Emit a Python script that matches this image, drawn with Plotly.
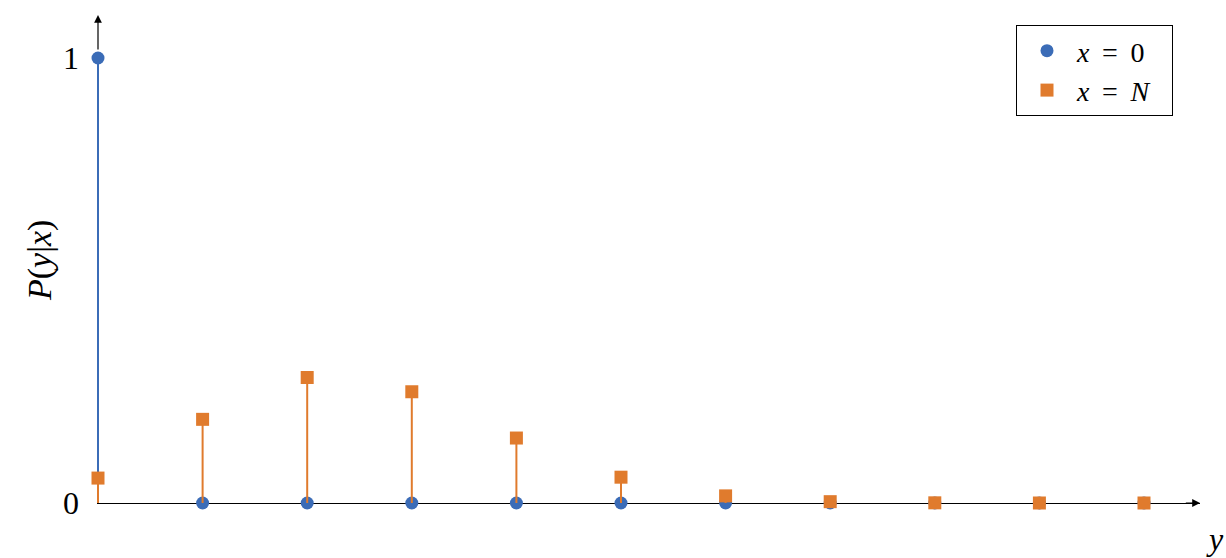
import plotly.graph_objects as go

# Data
y_values = [0, 1, 2, 3, 4, 5, 6, 7, 8, 9, 10]
p_x0 = [1.0, 0, 0, 0, 0, 0, 0, 0, 0, 0, 0]
p_xN = [0.056, 0.188, 0.282, 0.250, 0.146, 0.058, 0.016, 0.003, 0.0004, 0.0, 0.0]
series_names = ["<i>x</i>\u2009 = \u20090\u2009\u2009\u2009", "<i>x</i>\u2009 = \u2009<i>N</i>\u2009\u2009\u2009"]
y_tick_vals = [0, 1]
y_tick_text = ["0", "1"]

BLUE = "#3b6cb7"
ORANGE = "#e07b2d"
FONT = "Liberation Serif"

W, H = 1226, 558
L, R, T, B = 97, 26, 15, 55
plot_w = W - L - R
plot_h = H - T - B
px_per_x = 104.6
px_per_y = 445.0
x_min = -1.0 / px_per_x
x_max = x_min + plot_w / px_per_x
y_max = plot_h / px_per_y


def stems(xs, ys):
    sx, sy = [], []
    for a, b in zip(xs, ys):
        sx += [a, a, None]
        sy += [0, b, None]
    return sx, sy


fig = go.Figure()

for vals, color, name, symbol in [
    (p_x0, BLUE, series_names[0], "circle"),
    (p_xN, ORANGE, series_names[1], "square"),
]:
    sx, sy = stems(y_values, vals)
    fig.add_trace(go.Scatter(x=sx, y=sy, mode="lines", line=dict(color=color, width=2),
                             showlegend=False, hoverinfo="skip", cliponaxis=False))
    fig.add_trace(go.Scatter(x=y_values, y=vals, mode="markers", name=name,
                             marker=dict(color=color, size=13, symbol=symbol, line=dict(width=0)),
                             cliponaxis=False))

# axis arrows (x axis line drawn by axis; y axis above the top stem drawn here)
fig.add_annotation(x=x_max, y=0, ax=x_max - 0.15, ay=0, xref="x", yref="y", axref="x", ayref="y",
                   showarrow=True, arrowhead=2, arrowsize=1.3, arrowwidth=1.2, arrowcolor="black", text="")
fig.add_annotation(x=0, y=y_max, ax=0, ay=1.016, xref="x", yref="y", axref="x", ayref="y",
                   showarrow=True, arrowhead=2, arrowsize=1.3, arrowwidth=1.2, arrowcolor="black", text="")

# axis titles
fig.add_annotation(x=(1215 - L) / plot_w, y=-(519 - (H - B)) / plot_h, xref="paper", yref="paper",
                   text="<i>y</i>", showarrow=False, font=dict(family=FONT, size=32, color="black"),
                   xanchor="center", yanchor="top")
fig.add_annotation(x=(40 - L) / plot_w, y=(H - B - 260) / plot_h, xref="paper", yref="paper",
                   text="<i>P</i>(<i>y</i>|<i>x</i>)", textangle=-90, showarrow=False,
                   font=dict(family=FONT, size=34, color="black"),
                   xanchor="center", yanchor="middle")

fig.update_layout(
    width=W, height=H,
    margin=dict(l=L, r=R, t=T, b=B, autoexpand=False),
    plot_bgcolor="white", paper_bgcolor="white",
    font=dict(family=FONT, size=30, color="black"),
    xaxis=dict(range=[x_min, x_max], showgrid=False, zeroline=False, showline=True,
               linecolor="black", linewidth=1.2, layer="below traces",
               showticklabels=False, ticks=""),
    yaxis=dict(range=[0, y_max], showgrid=False, zeroline=False, showline=False,
               tickvals=y_tick_vals, ticktext=y_tick_text, ticks="", ticklabelstandoff=17,
               tickfont=dict(family=FONT, size=32)),
    legend=dict(xref="container", yref="container", x=1173 / W, y=1 - 25 / H,
                xanchor="right", yanchor="top", bordercolor="black", borderwidth=1,
                bgcolor="white", font=dict(family=FONT, size=28),
                tracegroupgap=0, itemwidth=50),
    showlegend=True,
)

fig.write_html("out.html")
